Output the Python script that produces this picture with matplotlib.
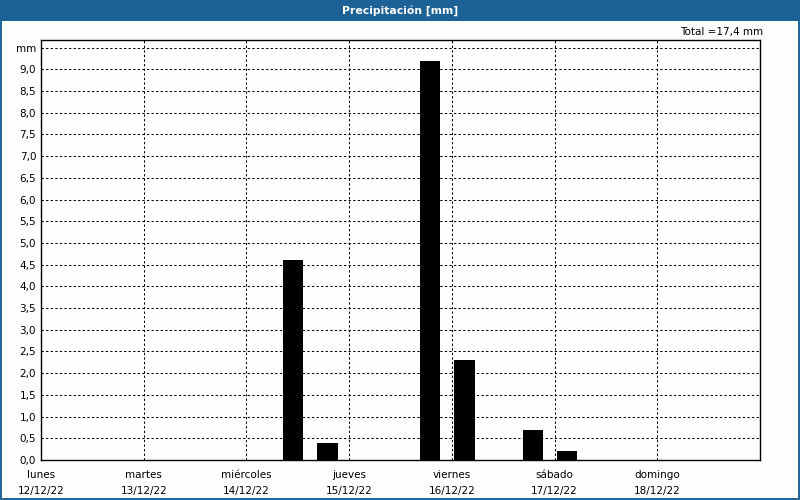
import matplotlib
matplotlib.use("Agg")
import matplotlib.pyplot as plt
from matplotlib.patches import Rectangle
from matplotlib.ticker import FixedLocator

# datos: inicio de cada periodo de 8 h (horas desde lunes 12/12 00:00) y lluvia [mm]
start_hours = [56, 64, 88, 96, 112, 120]
rain_mm = [4.6, 0.4, 9.2, 2.3, 0.7, 0.2]
day_names = ["lunes", "martes", "miércoles", "jueves", "viernes", "sábado", "domingo"]
day_dates = ["12/12/22", "13/12/22", "14/12/22", "15/12/22", "16/12/22", "17/12/22", "18/12/22"]
y_ticks = [0.5 * i for i in range(19)]
y_labels = [f"{v:.1f}".replace(".", ",") for v in y_ticks]
total = sum(rain_mm)

blue = "#1d6296"
fig = plt.figure(figsize=(8, 5), dpi=100)
fig.patch.set_facecolor("#fdfefd")

# barra de titulo y marco
fig.add_artist(Rectangle((0, 1 - 21 / 500), 1, 21 / 500, transform=fig.transFigure,
                         facecolor=blue, edgecolor="none", zorder=0))
fig.add_artist(Rectangle((1 / 800, 1 / 500), 1 - 2 / 800, 1 - 2 / 500,
                         transform=fig.transFigure, facecolor="none", edgecolor=blue,
                         linewidth=1.4, zorder=5))
fig.text(0.5, 1 - 10.5 / 500, "Precipitación [mm]", ha="center", va="center",
         color="white", fontsize=7.8, fontweight="bold")

ax = fig.add_axes([41 / 800, 40 / 500, 719 / 800, 420 / 500])
ax.set_facecolor("#fdfefd")
x = [h / 24 + 0.022 for h in start_hours]
ax.bar(x, rain_mm, width=0.2, align="edge", color="black", zorder=3)

ax.set_xlim(0, 7)
ax.set_ylim(0, 9.677)

ax.yaxis.set_major_locator(FixedLocator(y_ticks + [9.5]))
ax.set_yticklabels(y_labels + ["mm"], fontsize=7.5)
ax.xaxis.set_major_locator(FixedLocator(range(7)))
ax.set_xticklabels([f"{n}\n{d}" for n, d in zip(day_names, day_dates)], fontsize=7.5,
                   linespacing=1.7)
ax.tick_params(axis="y", length=0, pad=3.5)
ax.tick_params(axis="x", length=0, pad=7.5)

dash = (0, (2.2, 2.2))
for v in y_ticks[1:] + [9.5]:
    ax.axhline(v, color="black", lw=0.75, linestyle=dash, zorder=1)
for d in range(1, 7):
    ax.axvline(d, color="black", lw=0.75, linestyle=dash, zorder=1)

for s in ax.spines.values():
    s.set_linewidth(1.0)
    s.set_color("black")

fig.text(763 / 800, 1 - 32 / 500, f"Total ={total:.1f} mm".replace(".", ","),
         ha="right", va="center", fontsize=7.5)

fig.savefig("out.png", dpi=100, facecolor=fig.get_facecolor())
